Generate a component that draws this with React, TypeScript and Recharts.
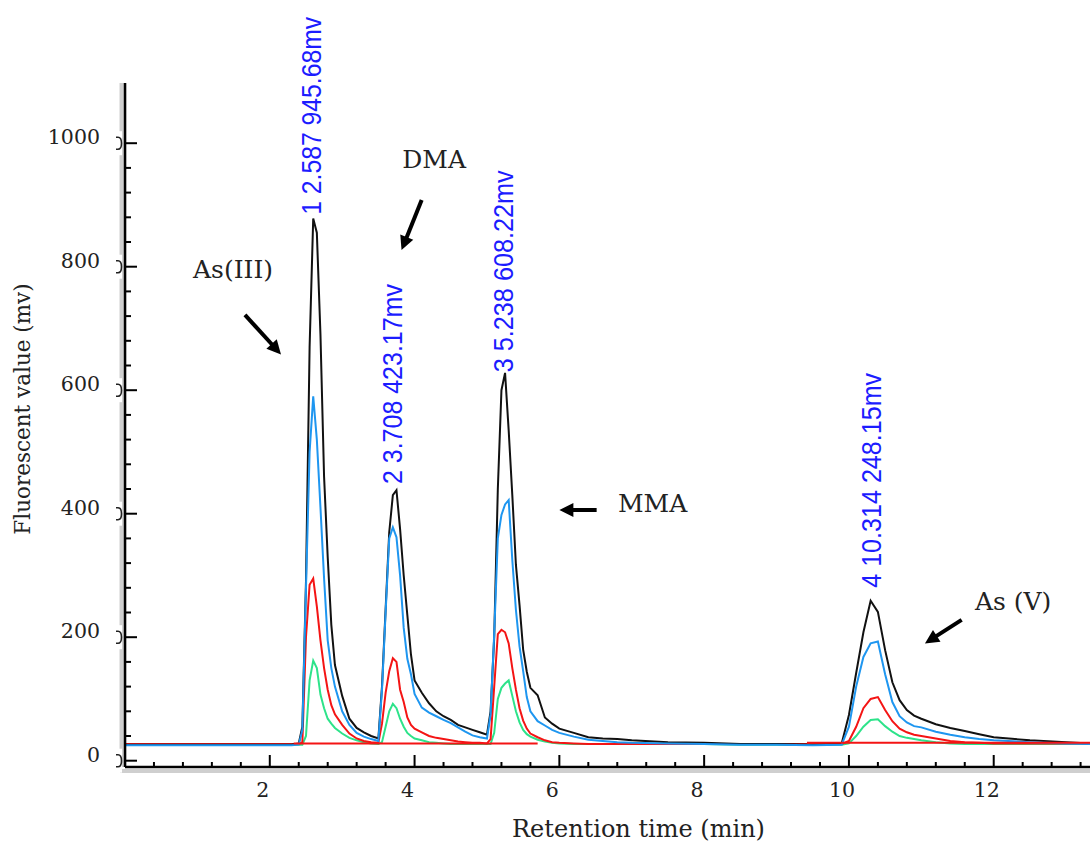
import React from 'react';
import { LineChart, Line, XAxis, YAxis, ReferenceLine, ReferenceDot } from 'recharts';

// Retention time grid (min)
const timeMin = [
  0, 0.5, 1.0, 1.5, 2.0, 2.3, 2.4, 2.45, 2.5, 2.55, 2.6, 2.65, 2.7, 2.75, 2.8, 2.85, 2.9, 3.0, 3.1, 3.2, 3.3, 3.4, 3.5,
  3.55, 3.6, 3.65, 3.7, 3.75, 3.8, 3.85, 3.9, 3.95, 4.0, 4.1, 4.2, 4.3, 4.4, 4.5, 4.6, 4.7, 4.8, 4.9, 5.0,
  5.05, 5.1, 5.15, 5.2, 5.25, 5.3, 5.35, 5.4, 5.45, 5.5, 5.55, 5.6, 5.7, 5.8, 5.9, 6.0, 6.2, 6.4, 6.6, 6.8, 7.0, 7.5, 8.0, 8.5, 9.0, 9.5, 9.9,
  10.0, 10.1, 10.2, 10.3, 10.4, 10.5, 10.6, 10.7, 10.8, 10.9, 11.0, 11.2, 11.4, 11.6, 11.8, 12.0, 12.5, 13.0, 13.33,
];

const seriesBlack = [
  26, 26, 26, 26, 26, 26, 28, 55, 290, 670, 878, 855, 690, 460, 330, 220, 155, 105, 68, 53, 46, 40, 36,
  120, 245, 370, 430, 438, 375, 300, 236, 172, 130, 110, 93, 80, 72, 66, 58, 54, 50, 46, 42,
  80, 200, 440, 600, 628, 535, 430, 317, 252, 180, 144, 118, 106, 70, 60, 52, 45, 38, 36, 35, 33, 30, 29, 27, 27, 26, 28,
  74, 142, 208, 259, 241, 179, 127, 98, 82, 73, 68, 59, 53, 48, 43, 38, 33, 30, 28,
];

const seriesBlue = [
  25, 25, 25, 25, 25, 25, 26, 50, 280, 500, 590, 520, 410, 295, 195, 150, 120, 80, 58, 45, 39, 35, 32,
  115, 240, 360, 378, 362, 300, 215, 165, 140, 108, 86, 78, 72, 66, 61, 54, 47, 41, 38, 36,
  75, 205, 360, 398, 415, 422, 325, 244, 185, 145, 103, 80, 64, 57, 50, 45, 39, 34, 32, 30, 29, 28, 27, 26, 26, 25, 26,
  55, 120, 168, 190, 193, 140, 95, 72, 62, 56, 54, 47, 42, 38, 35, 33, 30, 28, 27,
];

const seriesRed = [
  27, 27, 27, 27, 27, 27, 27, 30, 200, 285, 295, 250, 195, 150, 115, 90, 75, 58, 44, 36, 32, 30, 29,
  60, 110, 145, 166, 160, 115, 95, 70, 58, 52, 46, 40, 37, 35, 33, 31, 30, 29, 29, 28,
  35, 120, 205, 212, 208, 190, 150, 115, 85, 65, 52, 44, 38, 33, 30, 29, 28, 27, 27, 27, 27, 27, 27, 27, 27, 27, 27,
  32, 55, 85, 100, 103, 82, 64, 52, 46, 42, 40, 36, 32, 30, 29, 28, 28, 28, 28,
];

const seriesGreen = [
  26, 26, 26, 26, 26, 26, 26, 26, 40, 130, 162, 150, 107, 85, 68, 60, 53, 44, 37, 33, 30, 28, 27,
  30, 55, 80, 92, 85, 68, 55, 45, 40, 36, 33, 30, 29, 28, 27, 27, 27, 27, 27, 27,
  27, 45, 100, 118, 125, 130, 105, 80, 62, 50, 43, 39, 34, 31, 29, 28, 27, 27, 27, 27, 27, 27, 27, 26, 26, 26, 26,
  28, 40, 55, 66, 67, 56, 47, 40, 37, 35, 33, 30, 28, 27, 27, 27, 27, 27, 27,
];

// Integration baselines (red straight segments)
const baselineTime = [2.33, 5.7, 5.71, 9.42, 13.33];
const baselineValue: (number | null)[] = [28, 28, null, 29, 29];

// Axes
const xDomain = [0, 13.33];
const yDomain = [-10.2, 1097.5];
const xMajorTicks = [2, 4, 6, 8, 10, 12];
const yMajorTicks = [0, 200, 400, 600, 800, 1000];
const xMinorTicks = Array.from({ length: 33 }, (_, i) => Math.round((i + 1) * 4) / 10);
const yMinorTicks = Array.from({ length: 26 }, (_, i) => i * 40);
const xTitle = 'Retention time (min)';
const yTitle = 'Fluorescent value (mv)';

// Peak labels
const peakLabels = ['1 2.587 945.68mv', '2 3.708 423.17mv', '3 5.238 608.22mv', '4 10.314 248.15mv'];
const peakTimes = [2.587, 3.708, 5.238, 10.314];
const peakLabelBase = [884, 448, 629, 280];
const peakLabelLen = [198, 200, 202, 215];

// Compound annotations
const compoundNames = ['As(III)', 'DMA', 'MMA', 'As (V)'];
const compoundTextAt = [
  { t: 0.94, v: 782 },
  { t: 3.83, v: 960 },
  { t: 6.81, v: 403 },
  { t: 11.74, v: 244 },
];
const compoundArrows = [
  { from: { t: 1.657, v: 722 }, to: { t: 2.155, v: 658 } },
  { from: { t: 4.098, v: 908 }, to: { t: 3.82, v: 827 } },
  { from: { t: 6.515, v: 406 }, to: { t: 6.0, v: 406 } },
  { from: { t: 11.557, v: 228 }, to: { t: 11.05, v: 190 } },
];

const rows = timeMin.map((t, i) => ({
  t,
  black: seriesBlack[i],
  blue: seriesBlue[i],
  red: seriesRed[i],
  green: seriesGreen[i],
}));
const baselineRows = baselineTime.map((t, i) => ({ t, v: baselineValue[i] }));

const SERIF = 'DejaVu Serif, serif';

const isIn = (arr: number[], v: number) => arr.some((m) => Math.abs(m - v) < 1e-6);

const XTick = (props: any) => {
  const { x, y, payload } = props;
  const v = payload.value;
  const major = isIn(xMajorTicks, v);
  return (
    <g>
      <line x1={x} y1={y} x2={x} y2={y - (major ? 12 : 5)} stroke="#000" strokeWidth={2} />
      {major && (
        <text x={x - 7} y={y + 30} textAnchor="middle" fontFamily={SERIF} fontSize={20.5} fill="#222">
          {v}
        </text>
      )}
    </g>
  );
};

const YTick = (props: any) => {
  const { x, y, payload } = props;
  const v = payload.value;
  const major = isIn(yMajorTicks, v);
  return (
    <g>
      <line x1={x} y1={y} x2={x + (major ? 12 : 6)} y2={y} stroke="#000" strokeWidth={2} />
      {major && (
        <g>
          <rect x={x - 12} y={y - 12} width={9} height={24} fill="#fff" />
          <path
            d={`M${x - 9},${y - 6} L${x - 7},${y - 6} Q${x - 3.5},${y - 6} ${x - 3.5},${y} Q${x - 3.5},${y + 6} ${x - 7},${y + 6} L${x - 9},${y + 6}`}
            fill="none"
            stroke="#222"
            strokeWidth={1.6}
          />
          <text x={x - 25} y={y + 1} textAnchor="end" fontFamily={SERIF} fontSize={20.5} fill="#222">
            {v}
          </text>
        </g>
      )}
    </g>
  );
};

const XTitle = (p: any) => {
  const vb = p.viewBox || { x: 125, y: 767, width: 965, height: 40 };
  return (
    <text x={vb.x + vb.width / 2 + 31} y={vb.y + 70} textAnchor="middle" fontFamily={SERIF} fontSize={24} fill="#222">
      {xTitle}
    </text>
  );
};

const YTitle = (p: any) => {
  const vb = p.viewBox || { x: 65, y: 83, width: 60, height: 684 };
  const cx = vb.x - 43;
  const cy = vb.y + vb.height / 2 - 16;
  return (
    <text
      x={cx}
      y={cy}
      transform={`rotate(-90, ${cx}, ${cy})`}
      textAnchor="middle"
      dominantBaseline="central"
      fontFamily={SERIF}
      fontSize={21.5}
      fill="#222"
    >
      {yTitle}
    </text>
  );
};

const ShadowV = (p: any) => (
  <line x1={p.x1 - 3.5} y1={p.y1} x2={p.x2 - 3.5} y2={p.y2} stroke="#cfcfcf" strokeWidth={4} />
);
const ShadowH = (p: any) => (
  <line x1={p.x1 - 5} y1={p.y1 + 4} x2={p.x2} y2={p.y2 + 4} stroke="#cfcfcf" strokeWidth={4} />
);

const ArrowShape = (p: any) => {
  const { x1, y1, x2, y2 } = p;
  const dx = x2 - x1;
  const dy = y2 - y1;
  const len = Math.hypot(dx, dy) || 1;
  const ux = dx / len;
  const uy = dy / len;
  const hl = 14;
  const hw = 7;
  const bx = x2 - ux * hl;
  const by = y2 - uy * hl;
  const nx = -uy;
  const ny = ux;
  return (
    <g>
      <line x1={x1} y1={y1} x2={bx + ux * 2} y2={by + uy * 2} stroke="#000" strokeWidth={4} />
      <polygon
        points={`${x2},${y2} ${bx + nx * hw},${by + ny * hw} ${bx - nx * hw},${by - ny * hw}`}
        fill="#000"
      />
    </g>
  );
};

const makeTextShape = (text: string) => (p: any) => (
  <text x={p.cx} y={p.cy} textAnchor="start" fontFamily={SERIF} fontSize={25} fill="#222">
    {text}
  </text>
);

const makePeakLabel = (text: string, len: number) => (p: any) => (
  <text
    x={p.cx}
    y={p.cy}
    transform={`rotate(-90, ${p.cx}, ${p.cy})`}
    textAnchor="start"
    dominantBaseline="central"
    fontFamily="Liberation Sans, Arial, sans-serif"
    fontSize={27}
    fill="#1c1cff"
    textLength={len}
    lengthAdjust="spacingAndGlyphs"
  >
    {text}
  </text>
);

export default function App() {
  return (
    <div style={{ position: 'absolute', left: 0, top: 0, width: 1090, height: 845, background: '#fff' }}>
      <LineChart
        width={1090}
        height={845}
        data={rows}
        margin={{ top: 83, right: 0, left: 65, bottom: 38 }}
      >
        <ReferenceLine x={0} shape={ShadowV} ifOverflow="visible" />
        <ReferenceLine y={yDomain[0]} shape={ShadowH} ifOverflow="visible" />
        <XAxis
          dataKey="t"
          type="number"
          domain={xDomain}
          ticks={xMinorTicks}
          interval={0}
          allowDataOverflow
          height={40}
          tickLine={false}
          tickSize={0}
          tickMargin={0}
          tick={XTick}
          axisLine={{ stroke: '#000', strokeWidth: 2.6 }}
          label={XTitle}
        />
        <YAxis
          type="number"
          domain={yDomain}
          ticks={yMinorTicks}
          interval={0}
          allowDataOverflow
          width={60}
          tickLine={false}
          tickSize={0}
          tickMargin={0}
          tick={YTick}
          axisLine={{ stroke: '#000', strokeWidth: 2.6 }}
          label={YTitle}
        />
        <Line type="linear" dataKey="green" stroke="#2de38a" strokeWidth={2} dot={false} isAnimationActive={false} />
        <Line type="linear" dataKey="red" stroke="#f41414" strokeWidth={2} dot={false} isAnimationActive={false} />
        <Line type="linear" dataKey="black" stroke="#111" strokeWidth={2} dot={false} isAnimationActive={false} />
        <Line type="linear" dataKey="blue" stroke="#1e96f0" strokeWidth={2} dot={false} isAnimationActive={false} />
        <Line
          type="linear"
          data={baselineRows}
          dataKey="v"
          stroke="#f41414"
          strokeWidth={2}
          dot={false}
          connectNulls={false}
          isAnimationActive={false}
        />
        {compoundArrows.map((a, i) => (
          <ReferenceLine
            key={`arrow-${i}`}
            segment={[
              { x: a.from.t, y: a.from.v },
              { x: a.to.t, y: a.to.v },
            ]}
            shape={ArrowShape}
            ifOverflow="visible"
          />
        ))}
        {compoundNames.map((name, i) => (
          <ReferenceDot
            key={`name-${i}`}
            x={compoundTextAt[i].t}
            y={compoundTextAt[i].v}
            r={0}
            ifOverflow="visible"
            shape={makeTextShape(name)}
          />
        ))}
        {peakLabels.map((lab, i) => (
          <ReferenceDot
            key={`peak-${i}`}
            x={peakTimes[i]}
            y={peakLabelBase[i]}
            r={0}
            ifOverflow="visible"
            shape={makePeakLabel(lab, peakLabelLen[i])}
          />
        ))}
      </LineChart>
    </div>
  );
}
